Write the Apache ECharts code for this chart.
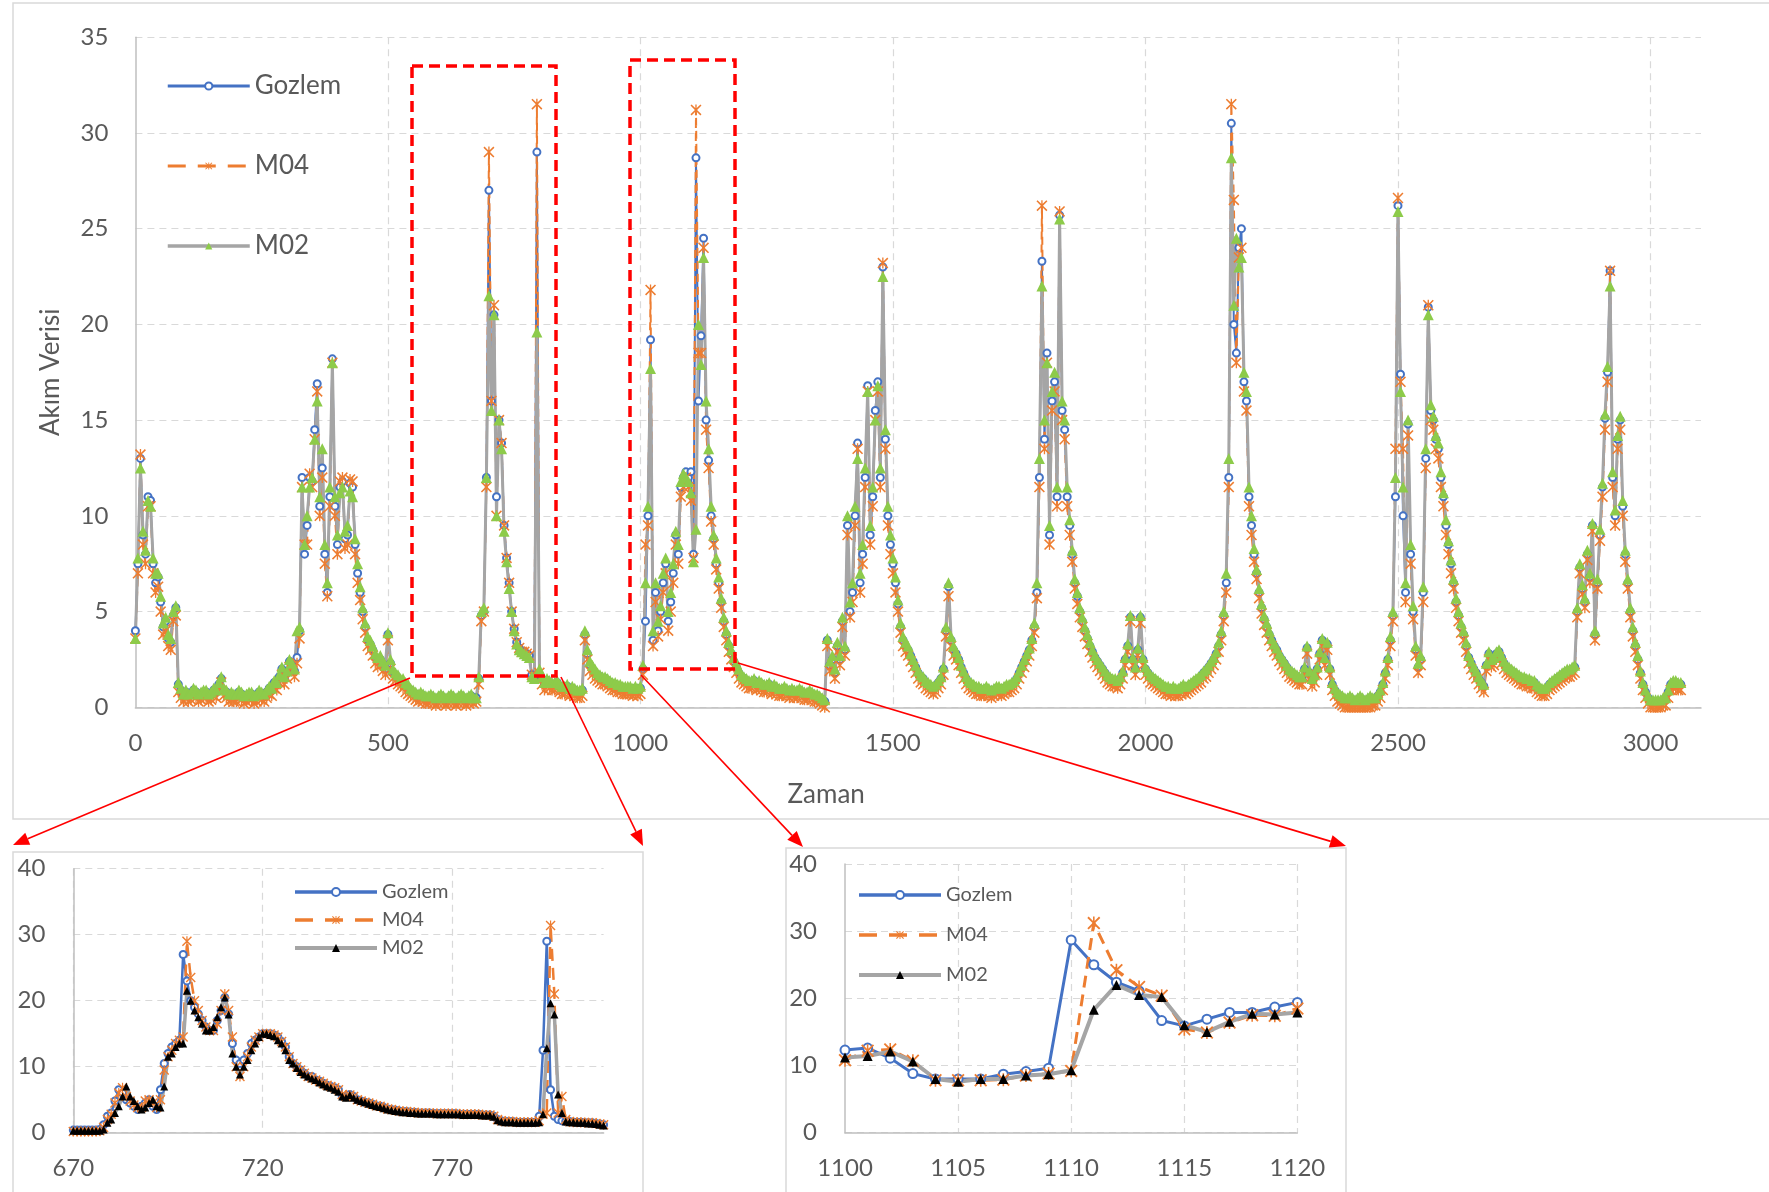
<!DOCTYPE html>
<html>
<head>
<meta charset="utf-8">
<title>Akım Verisi</title>
<script src="https://cdn.jsdelivr.net/npm/echarts@6.0.0/dist/echarts.min.js"></script>
<style>
  html, body { margin: 0; padding: 0; background: #ffffff; }
  #grafik { width: 1769px; height: 1192px; }
</style>
</head>
<body>
<div id="grafik"></div>
<script>
// ana grafik: 0..3060 arasi, 5 adimda okunan degerler (her satir 100 birim)
const adim = 5;

const gozlem = [
  4.0, 7.5, 13.0, 9.0, 8.0, 11.0, 10.8, 7.5, 6.5, 6.8, 5.5, 4.2, 4.5, 3.6, 3.4, 4.8, 5.2, 1.2, 0.9, 0.6,
  0.8, 0.6, 0.7, 0.9, 0.8, 0.6, 0.7, 0.8, 0.8, 0.6, 0.7, 0.9, 0.8, 1.2, 1.5, 0.9, 0.8, 0.6, 0.7, 0.6,
  0.6, 0.8, 0.7, 0.5, 0.6, 0.7, 0.7, 0.5, 0.6, 0.8, 0.7, 0.6, 0.8, 1.0, 0.9, 1.3, 1.2, 1.6, 2.0, 1.5,
  1.8, 2.4, 2.2, 1.9, 2.6, 4.0, 12.0, 8.0, 9.5, 12.0, 11.8, 14.5, 16.9, 10.5, 12.5, 8.0, 6.0, 11.0, 18.2, 10.5,
  8.5, 11.5, 11.8, 8.8, 9.0, 11.7, 11.5, 8.5, 7.0, 6.0, 5.0, 4.2, 3.5, 3.3, 3.0, 2.6, 2.4, 2.5, 2.2, 2.0,
  3.8, 2.3, 1.8, 1.7, 1.5, 1.4, 1.3, 1.1, 1.0, 0.9, 0.8, 0.7, 0.6, 0.7, 0.6, 0.5, 0.5, 0.6, 0.5, 0.4,
  0.5, 0.6, 0.5, 0.4, 0.5, 0.6, 0.5, 0.4, 0.5, 0.6, 0.5, 0.4, 0.5, 0.6, 0.4, 0.5, 1.5, 4.8, 5.0, 12.0,
  27.0, 16.0, 20.5, 11.0, 15.0, 13.8, 9.5, 7.8, 6.5, 5.0, 4.1, 3.4, 3.1, 2.9, 2.9, 2.8, 2.7, 1.7, 1.6, 29.0,
  1.7, 1.5, 1.2, 1.4, 1.3, 1.2, 1.2, 1.3, 1.1, 1.0, 1.0, 1.1, 0.9, 1.0, 0.9, 0.8, 0.8, 0.9, 3.8, 2.8,
  2.2, 2.0, 1.8, 1.7, 1.6, 1.5, 1.5, 1.4, 1.3, 1.2, 1.2, 1.1, 1.1, 1.0, 1.0, 1.0, 1.0, 0.9, 1.0, 0.9,
  1.0, 2.0, 4.5, 10.0, 19.2, 3.5, 6.0, 4.0, 5.0, 6.5, 7.5, 4.5, 5.5, 7.0, 9.0, 8.0, 11.5, 12.0, 12.3, 12.0,
  12.3, 8.0, 28.7, 16.0, 19.4, 24.5, 15.0, 12.9, 10.0, 8.8, 7.5, 6.5, 5.5, 4.5, 3.8, 3.2, 2.8, 2.4, 2.1, 1.8,
  1.6, 1.5, 1.4, 1.3, 1.3, 1.4, 1.2, 1.3, 1.2, 1.1, 1.1, 1.2, 1.0, 1.1, 1.0, 0.9, 0.9, 1.0, 0.9, 0.8,
  0.9, 0.8, 0.8, 0.9, 0.8, 0.7, 0.7, 0.8, 0.7, 0.6, 0.6, 0.5, 0.4, 0.3, 3.5, 2.2, 2.5, 1.8, 3.2, 2.5,
  4.5, 3.0, 9.5, 5.0, 6.0, 10.0, 13.8, 6.5, 8.0, 12.0, 16.8, 9.0, 11.0, 15.5, 17.0, 12.0, 23.0, 14.0, 10.0, 8.5,
  7.5, 6.5, 5.4, 4.2, 3.5, 3.2, 3.0, 2.7, 2.4, 2.1, 1.8, 1.6, 1.5, 1.3, 1.2, 1.1, 1.0, 1.1, 1.3, 1.5,
  2.0, 4.0, 6.3, 3.5, 3.0, 2.8, 2.5, 2.1, 1.8, 1.5, 1.3, 1.2, 1.1, 1.0, 1.0, 0.9, 0.9, 1.0, 0.9, 0.8,
  0.9, 1.0, 1.0, 0.9, 1.0, 1.1, 1.1, 1.2, 1.3, 1.5, 1.8, 2.1, 2.4, 2.7, 3.0, 3.5, 4.2, 6.0, 12.0, 23.3,
  14.0, 18.5, 9.0, 16.0, 17.0, 11.0, 25.7, 15.5, 14.5, 11.0, 9.5, 8.0, 6.5, 5.8, 5.0, 4.5, 4.0, 3.6, 3.2, 2.9,
  2.6, 2.4, 2.2, 2.0, 1.8, 1.6, 1.5, 1.4, 1.4, 1.3, 1.5, 1.8, 2.5, 3.2, 4.7, 2.5, 2.0, 3.0, 4.7, 2.5,
  2.0, 1.8, 1.6, 1.5, 1.4, 1.3, 1.2, 1.1, 1.0, 1.0, 0.9, 1.0, 0.9, 0.9, 1.0, 1.1, 1.0, 1.1, 1.2, 1.3,
  1.4, 1.5, 1.6, 1.8, 1.9, 2.1, 2.3, 2.5, 2.8, 3.2, 3.8, 4.8, 6.5, 12.0, 30.5, 20.0, 18.5, 24.0, 25.0, 17.0,
  16.0, 11.0, 9.5, 8.0, 7.0, 6.0, 5.2, 4.6, 4.2, 3.8, 3.5, 3.2, 3.0, 2.7, 2.5, 2.3, 2.1, 1.9, 1.8, 1.7,
  1.6, 1.5, 1.5, 2.0, 3.1, 1.8, 1.4, 1.6, 2.0, 2.8, 3.5, 2.5, 3.3, 2.0, 1.2, 0.9, 0.7, 0.6, 0.5, 0.4,
  0.4, 0.5, 0.4, 0.3, 0.4, 0.5, 0.4, 0.3, 0.4, 0.5, 0.4, 0.4, 0.6, 0.8, 1.2, 1.8, 2.5, 3.5, 4.8, 11.0,
  26.2, 17.4, 10.0, 6.0, 14.8, 8.0, 5.0, 3.0, 2.1, 2.5, 6.0, 13.0, 20.9, 15.5, 15.0, 14.0, 13.5, 12.0, 11.0, 9.5,
  8.5, 7.5, 6.5, 5.5, 4.8, 4.2, 3.8, 3.2, 2.6, 2.3, 2.0, 1.8, 1.5, 1.3, 1.1, 2.2, 2.8, 2.4, 2.5, 2.8,
  2.9, 2.6, 2.3, 2.1, 2.0, 1.9, 1.8, 1.7, 1.6, 1.5, 1.5, 1.4, 1.4, 1.3, 1.3, 1.1, 1.0, 0.9, 0.9, 1.0,
  1.2, 1.3, 1.4, 1.5, 1.6, 1.7, 1.8, 1.9, 1.9, 2.0, 2.1, 5.0, 7.3, 6.2, 5.5, 8.0, 6.8, 9.5, 3.8, 6.5,
  9.0, 11.5, 15.1, 17.5, 22.8, 12.0, 10.0, 14.0, 15.0, 10.5, 8.0, 6.5, 5.0, 4.0, 3.2, 2.5, 1.8, 1.2, 0.8, 0.5,
  0.3, 0.3, 0.3, 0.3, 0.3, 0.4, 0.4, 0.8, 1.2, 1.3, 1.3, 1.2, 1.2
];

const m04 = [
  3.6, 7.0, 13.2, 8.5, 7.5, 10.5, 10.5, 7.0, 6.0, 6.3, 5.0, 3.8, 4.0, 3.2, 3.0, 4.5, 4.8, 0.8, 0.5, 0.3,
  0.5, 0.3, 0.4, 0.6, 0.5, 0.3, 0.4, 0.5, 0.5, 0.3, 0.4, 0.6, 0.5, 0.9, 1.3, 0.6, 0.5, 0.3, 0.4, 0.3,
  0.3, 0.5, 0.4, 0.2, 0.3, 0.4, 0.4, 0.2, 0.3, 0.5, 0.4, 0.3, 0.5, 0.7, 0.6, 1.0, 0.9, 1.3, 1.7, 1.2,
  1.5, 2.1, 1.9, 1.6, 2.3, 3.6, 11.5, 8.5, 8.5, 12.2, 11.5, 14.0, 16.5, 10.0, 12.0, 7.5, 5.8, 10.5, 18.0, 10.0,
  8.0, 11.8, 12.0, 8.3, 8.5, 11.9, 11.8, 8.0, 6.5, 5.6, 4.6, 3.9, 3.2, 3.0, 2.7, 2.3, 2.1, 2.2, 1.9, 1.7,
  3.5, 2.0, 1.5, 1.4, 1.2, 1.1, 1.0, 0.8, 0.7, 0.6, 0.5, 0.4, 0.3, 0.4, 0.3, 0.2, 0.2, 0.3, 0.2, 0.1,
  0.2, 0.3, 0.2, 0.1, 0.2, 0.3, 0.2, 0.1, 0.2, 0.3, 0.2, 0.1, 0.2, 0.3, 0.2, 0.3, 1.2, 4.5, 5.0, 11.5,
  29.0, 16.0, 21.0, 10.0, 15.0, 13.8, 9.5, 7.8, 6.5, 5.0, 4.1, 3.4, 3.1, 2.9, 2.9, 2.8, 2.7, 1.7, 1.6, 31.5,
  1.8, 1.2, 0.9, 1.1, 1.0, 0.9, 0.9, 1.0, 0.8, 0.7, 0.7, 0.8, 0.6, 0.7, 0.6, 0.5, 0.5, 0.6, 3.5, 2.5,
  1.9, 1.7, 1.5, 1.4, 1.3, 1.2, 1.2, 1.1, 1.0, 0.9, 0.9, 0.8, 0.8, 0.7, 0.7, 0.7, 0.7, 0.6, 0.7, 0.6,
  0.7, 1.7, 8.5, 9.5, 21.8, 3.2, 5.5, 3.7, 4.6, 6.0, 7.0, 4.0, 5.0, 6.5, 8.5, 7.5, 11.0, 11.5, 12.0, 11.5,
  10.8, 7.8, 31.2, 18.5, 18.5, 24.0, 14.5, 12.5, 9.7, 8.5, 7.2, 6.2, 5.2, 4.2, 3.5, 2.9, 2.5, 2.1, 1.8, 1.5,
  1.3, 1.2, 1.1, 1.0, 1.0, 1.1, 0.9, 1.0, 0.9, 0.8, 0.8, 0.9, 0.7, 0.8, 0.7, 0.6, 0.6, 0.7, 0.6, 0.5,
  0.6, 0.5, 0.5, 0.6, 0.5, 0.4, 0.4, 0.5, 0.4, 0.3, 0.3, 0.2, 0.1, 0.0, 3.2, 1.9, 2.2, 1.5, 2.9, 2.2,
  4.2, 2.7, 9.0, 4.7, 5.5, 9.5, 13.5, 6.0, 7.5, 11.5, 16.5, 8.5, 10.5, 15.0, 16.5, 11.5, 23.2, 13.5, 9.5, 8.0,
  7.0, 6.0, 5.0, 3.9, 3.2, 2.9, 2.7, 2.4, 2.1, 1.8, 1.5, 1.3, 1.2, 1.0, 0.9, 0.8, 0.7, 0.8, 1.0, 1.2,
  1.7, 3.7, 5.8, 3.2, 2.7, 2.5, 2.2, 1.8, 1.5, 1.2, 1.0, 0.9, 0.8, 0.7, 0.7, 0.6, 0.6, 0.7, 0.6, 0.5,
  0.6, 0.7, 0.7, 0.6, 0.7, 0.8, 0.8, 0.9, 1.0, 1.2, 1.5, 1.8, 2.1, 2.4, 2.7, 3.2, 3.9, 5.7, 11.5, 26.2,
  13.5, 18.0, 8.5, 15.5, 16.5, 10.5, 25.9, 15.0, 14.0, 10.5, 9.0, 7.6, 6.2, 5.4, 4.7, 4.2, 3.7, 3.3, 2.9, 2.6,
  2.3, 2.1, 1.9, 1.7, 1.5, 1.3, 1.2, 1.1, 1.1, 1.0, 1.2, 1.5, 2.2, 2.9, 4.5, 2.2, 1.7, 2.7, 4.4, 2.2,
  1.7, 1.5, 1.3, 1.2, 1.1, 1.0, 0.9, 0.8, 0.7, 0.7, 0.6, 0.7, 0.6, 0.6, 0.7, 0.8, 0.7, 0.8, 0.9, 1.0,
  1.1, 1.2, 1.3, 1.5, 1.6, 1.8, 2.0, 2.2, 2.5, 2.9, 3.5, 4.5, 6.0, 11.5, 31.5, 26.5, 18.0, 23.5, 24.0, 16.5,
  15.5, 10.5, 9.0, 7.6, 6.7, 5.7, 4.9, 4.3, 3.9, 3.5, 3.2, 2.9, 2.7, 2.4, 2.2, 2.0, 1.8, 1.6, 1.5, 1.4,
  1.3, 1.2, 1.2, 1.7, 2.8, 1.5, 1.1, 1.3, 1.7, 2.5, 3.2, 2.2, 3.0, 1.7, 0.9, 0.6, 0.3, 0.2, 0.1, 0.0,
  0.0, 0.0, 0.0, 0.0, 0.0, 0.0, 0.0, 0.0, 0.0, 0.0, 0.1, 0.1, 0.3, 0.5, 0.9, 1.5, 2.2, 3.2, 4.5, 13.5,
  26.6, 17.0, 13.5, 5.5, 14.2, 7.5, 4.6, 2.7, 1.8, 2.2, 5.5, 12.5, 21.0, 15.0, 14.5, 13.5, 13.0, 11.5, 10.5, 9.0,
  8.0, 7.0, 6.2, 5.2, 4.5, 3.9, 3.5, 2.9, 2.3, 2.0, 1.7, 1.5, 1.2, 1.0, 0.8, 1.9, 2.5, 2.1, 2.2, 2.5,
  2.6, 2.3, 2.0, 1.8, 1.7, 1.6, 1.5, 1.4, 1.3, 1.2, 1.2, 1.1, 1.1, 1.0, 1.0, 0.8, 0.7, 0.6, 0.6, 0.7,
  0.9, 1.0, 1.1, 1.2, 1.3, 1.4, 1.5, 1.6, 1.6, 1.7, 1.8, 4.7, 7.0, 5.9, 5.2, 7.7, 6.5, 9.2, 3.5, 6.2,
  8.7, 11.0, 14.5, 17.0, 22.8, 11.5, 9.5, 13.5, 14.5, 10.0, 7.6, 6.2, 4.7, 3.7, 2.9, 2.2, 1.5, 0.9, 0.5, 0.2,
  0.0, 0.0, 0.0, 0.0, 0.0, 0.1, 0.1, 0.5, 0.9, 1.0, 1.0, 0.9, 0.9
];

const m02 = [
  3.6, 7.8, 12.5, 9.2, 8.2, 10.8, 10.5, 7.8, 7.0, 7.0, 5.8, 4.4, 4.7, 3.8, 3.6, 5.0, 5.3, 1.3, 1.0, 0.7,
  0.9, 0.7, 0.8, 1.0, 0.9, 0.7, 0.8, 0.9, 0.9, 0.7, 0.8, 1.0, 0.9, 1.3, 1.6, 1.0, 0.9, 0.7, 0.8, 0.7,
  0.7, 0.9, 0.8, 0.6, 0.7, 0.8, 0.8, 0.6, 0.7, 0.9, 0.8, 0.7, 0.9, 1.1, 1.0, 1.4, 1.3, 1.7, 2.1, 1.6,
  1.9, 2.5, 2.3, 2.0, 4.0, 4.2, 11.5, 8.5, 10.0, 11.5, 12.0, 14.0, 16.0, 11.0, 13.5, 8.5, 6.5, 11.5, 18.0, 11.0,
  9.0, 11.2, 11.5, 9.2, 9.5, 11.3, 11.0, 8.8, 7.5, 6.3, 5.2, 4.4, 3.7, 3.5, 3.2, 2.8, 2.6, 2.7, 2.4, 2.2,
  3.9, 2.5, 2.0, 1.8, 1.7, 1.5, 1.5, 1.3, 1.2, 1.0, 0.9, 0.8, 0.7, 0.8, 0.7, 0.6, 0.6, 0.7, 0.6, 0.5,
  0.6, 0.7, 0.6, 0.5, 0.6, 0.7, 0.6, 0.5, 0.6, 0.7, 0.6, 0.5, 0.6, 0.7, 0.5, 0.5, 1.6, 5.0, 5.2, 12.0,
  21.5, 15.5, 20.5, 10.0, 15.0, 13.5, 9.2, 7.6, 6.2, 5.0, 4.0, 3.3, 3.0, 2.9, 2.8, 2.7, 2.6, 1.6, 1.5, 19.6,
  2.0, 1.6, 1.3, 1.5, 1.4, 1.3, 1.3, 1.4, 1.2, 1.1, 1.1, 1.2, 1.0, 1.1, 1.0, 0.9, 0.9, 1.0, 4.0, 3.0,
  2.4, 2.2, 2.0, 1.8, 1.7, 1.6, 1.6, 1.5, 1.4, 1.3, 1.3, 1.2, 1.2, 1.1, 1.1, 1.1, 1.1, 1.0, 1.1, 1.0,
  1.1, 2.2, 6.5, 10.5, 17.7, 4.0, 6.5, 4.5, 5.3, 7.0, 7.8, 5.0, 6.0, 7.5, 9.2, 8.5, 11.8, 12.2, 12.0, 11.8,
  11.2, 7.6, 9.3, 20.0, 17.9, 23.5, 16.0, 13.5, 10.5, 9.0, 7.8, 6.8, 5.7, 4.7, 4.0, 3.4, 3.0, 2.6, 2.3, 2.0,
  1.7, 1.6, 1.5, 1.4, 1.4, 1.5, 1.3, 1.4, 1.3, 1.2, 1.2, 1.3, 1.1, 1.2, 1.1, 1.0, 1.0, 1.1, 1.0, 0.9,
  1.0, 0.9, 0.9, 1.0, 0.9, 0.8, 0.8, 0.9, 0.8, 0.7, 0.7, 0.6, 0.5, 0.4, 3.6, 2.4, 2.7, 2.0, 3.4, 2.7,
  4.7, 3.2, 10.0, 5.5, 6.5, 10.5, 13.0, 7.0, 8.5, 12.5, 16.5, 9.5, 11.5, 15.0, 16.8, 12.5, 22.5, 14.5, 10.5, 9.0,
  7.8, 6.8, 5.6, 4.4, 3.7, 3.4, 3.2, 2.8, 2.5, 2.2, 1.9, 1.7, 1.6, 1.4, 1.3, 1.2, 1.1, 1.2, 1.4, 1.6,
  2.1, 4.2, 6.5, 3.7, 3.2, 2.9, 2.6, 2.2, 1.9, 1.6, 1.4, 1.3, 1.2, 1.1, 1.1, 1.0, 1.0, 1.1, 1.0, 0.9,
  1.0, 1.1, 1.1, 1.0, 1.1, 1.2, 1.2, 1.3, 1.4, 1.6, 1.9, 2.2, 2.5, 2.8, 3.1, 3.6, 4.4, 6.5, 13.0, 22.0,
  15.0, 18.0, 9.5, 16.5, 17.5, 11.5, 25.5, 16.0, 15.0, 11.5, 9.8, 8.2, 6.7, 6.0, 5.2, 4.7, 4.2, 3.8, 3.4, 3.0,
  2.7, 2.5, 2.3, 2.1, 1.9, 1.7, 1.6, 1.5, 1.5, 1.4, 1.6, 1.9, 2.6, 3.3, 4.8, 2.6, 2.1, 3.1, 4.8, 2.6,
  2.1, 1.9, 1.7, 1.6, 1.5, 1.4, 1.3, 1.2, 1.1, 1.1, 1.0, 1.1, 1.0, 1.0, 1.1, 1.2, 1.1, 1.2, 1.3, 1.4,
  1.5, 1.6, 1.7, 1.9, 2.0, 2.2, 2.4, 2.6, 2.9, 3.4, 4.0, 5.0, 7.0, 13.0, 28.7, 21.0, 24.5, 23.0, 23.5, 17.5,
  16.5, 11.5, 10.0, 8.3, 7.2, 6.2, 5.4, 4.8, 4.4, 4.0, 3.6, 3.3, 3.1, 2.8, 2.6, 2.4, 2.2, 2.0, 1.9, 1.8,
  1.7, 1.6, 1.6, 2.1, 3.2, 1.9, 1.5, 1.7, 2.1, 2.9, 3.6, 2.6, 3.4, 2.1, 1.3, 1.0, 0.8, 0.7, 0.6, 0.5,
  0.5, 0.6, 0.5, 0.4, 0.5, 0.6, 0.5, 0.4, 0.5, 0.6, 0.5, 0.5, 0.7, 0.9, 1.3, 1.9, 2.6, 3.7, 5.0, 12.0,
  25.9, 16.5, 11.5, 6.5, 15.0, 8.5, 5.3, 3.2, 2.3, 2.7, 6.3, 13.5, 20.5, 15.8, 15.2, 14.2, 13.8, 12.3, 11.2, 9.8,
  8.7, 7.7, 6.7, 5.7, 5.0, 4.4, 4.0, 3.4, 2.7, 2.4, 2.1, 1.9, 1.6, 1.4, 1.2, 2.3, 2.9, 2.5, 2.6, 2.9,
  3.0, 2.7, 2.4, 2.2, 2.1, 2.0, 1.9, 1.8, 1.7, 1.6, 1.6, 1.5, 1.5, 1.4, 1.4, 1.2, 1.1, 1.0, 1.0, 1.1,
  1.3, 1.4, 1.5, 1.6, 1.7, 1.8, 1.9, 2.0, 2.0, 2.1, 2.2, 5.2, 7.5, 6.4, 5.7, 8.2, 7.0, 9.6, 4.0, 6.7,
  9.3, 11.7, 15.3, 17.8, 22.0, 12.3, 10.3, 14.2, 15.2, 10.8, 8.2, 6.7, 5.2, 4.2, 3.4, 2.7, 1.9, 1.3, 0.9, 0.6,
  0.4, 0.4, 0.4, 0.4, 0.4, 0.5, 0.5, 0.9, 1.3, 1.4, 1.4, 1.3, 1.3
];

// yakinlastirma 1: 670..810
const yakin1Bas = 670;
const yakin1Gozlem = [
  0.4, 0.4, 0.4, 0.4, 0.4, 0.4, 0.4, 0.5, 1.2, 2.5,
  3.0, 4.8, 6.5, 6.0, 5.0, 4.5, 4.0, 3.5, 4.0, 4.5,
  5.0, 4.0, 3.5, 6.5, 10.5, 12.0, 13.0, 13.5, 14.0, 27.0,
  23.0, 20.0, 19.0, 18.0, 17.0, 16.0, 15.5, 15.5, 17.0, 18.5,
  20.5, 18.0, 13.5, 11.0, 10.5, 11.0, 12.0, 13.5, 14.0, 14.5,
  15.0, 15.0, 15.0, 14.8, 14.5, 13.8, 13.0, 11.5, 10.5, 10.0,
  9.5, 9.0, 8.5, 8.5, 8.0, 7.8, 7.5, 7.2, 7.0, 6.8,
  6.5, 5.5, 5.5, 5.8, 5.5, 5.0, 4.8, 4.6, 4.5, 4.3,
  4.1, 4.0, 3.8, 3.6, 3.5, 3.4, 3.3, 3.2, 3.2, 3.1,
  3.1, 3.0, 3.0, 3.0, 3.0, 2.9, 2.9, 2.9, 2.9, 2.9,
  2.9, 2.9, 2.8, 2.8, 2.8, 2.8, 2.8, 2.8, 2.7, 2.7,
  2.7, 2.5, 2.0, 1.8, 1.7, 1.7, 1.7, 1.6, 1.6, 1.6,
  1.6, 1.6, 1.6, 2.5, 12.5, 29.0, 6.5, 2.5, 2.0, 1.8,
  1.7, 1.7, 1.6, 1.6, 1.6, 1.5, 1.5, 1.5, 1.4, 1.3, 1.2
];
const yakin1M04 = [
  0.2, 0.2, 0.2, 0.2, 0.2, 0.2, 0.2, 0.3, 0.8, 2.0,
  2.8, 4.5, 6.0, 6.8, 5.5, 4.8, 4.2, 3.8, 3.8, 4.8,
  5.0, 4.5, 3.8, 5.0, 9.5, 11.5, 12.5, 13.5, 14.0, 14.5,
  29.0, 23.5, 20.0, 18.5, 17.0, 16.0, 15.5, 15.5, 16.5, 18.5,
  21.0, 18.5, 14.5, 10.0, 8.5, 10.0, 11.5, 13.0, 14.0, 14.5,
  15.0, 15.0, 15.0, 14.8, 14.5, 13.8, 13.0, 11.5, 10.5, 10.0,
  9.5, 9.0, 8.5, 8.3, 8.0, 7.8, 7.5, 7.2, 7.0, 6.8,
  6.5, 5.8, 5.5, 5.7, 5.5, 5.0, 4.8, 4.6, 4.5, 4.3,
  4.1, 4.0, 3.8, 3.6, 3.5, 3.4, 3.3, 3.2, 3.2, 3.1,
  3.1, 3.0, 3.0, 3.0, 3.0, 2.9, 2.9, 2.9, 2.9, 2.9,
  2.9, 2.9, 2.8, 2.8, 2.8, 2.8, 2.8, 2.8, 2.7, 2.7,
  2.7, 2.5, 2.0, 1.8, 1.7, 1.7, 1.7, 1.6, 1.6, 1.6,
  1.6, 1.6, 1.6, 1.8, 2.8, 3.0, 31.4, 21.0, 3.0, 5.5,
  2.0, 1.7, 1.6, 1.6, 1.6, 1.5, 1.5, 1.5, 1.4, 1.3, 1.2
];
const yakin1M02 = [
  0.3, 0.3, 0.3, 0.3, 0.3, 0.3, 0.3, 0.3, 0.5, 1.5,
  2.0, 3.0, 4.0, 5.5, 7.0, 5.5, 4.8, 4.0, 3.5, 3.8,
  4.5, 5.0, 4.0, 3.8, 7.0, 11.5, 12.0, 13.0, 13.5, 13.5,
  21.5, 20.0, 18.5, 17.5, 16.5, 15.5, 15.5, 16.0, 17.5, 19.0,
  20.5, 17.9, 12.0, 10.0, 8.8, 10.0, 11.0, 12.5, 13.5, 14.5,
  15.0, 15.0, 14.8, 14.6, 14.0, 13.5, 12.5, 11.0, 10.5, 9.8,
  9.2, 8.8, 8.5, 8.2, 8.0, 7.6, 7.3, 7.0, 6.8, 6.5,
  6.2, 5.5, 5.3, 5.7, 5.3, 5.0, 4.8, 4.6, 4.4, 4.2,
  4.0, 3.9, 3.7, 3.5, 3.4, 3.3, 3.2, 3.1, 3.1, 3.0,
  3.0, 2.9, 2.9, 2.9, 2.9, 2.9, 2.8, 2.8, 2.8, 2.8,
  2.8, 2.8, 2.8, 2.7, 2.7, 2.7, 2.7, 2.7, 2.6, 2.6,
  2.6, 2.4, 1.9, 1.7, 1.6, 1.6, 1.6, 1.5, 1.5, 1.5,
  1.5, 1.5, 1.5, 1.6, 2.8, 12.8, 19.6, 17.9, 5.8, 3.0,
  1.7, 1.6, 1.6, 1.5, 1.5, 1.5, 1.4, 1.4, 1.3, 1.2, 1.1
];

// yakinlastirma 2: 1100..1120
const yakin2Bas = 1100;
const yakin2Gozlem = [12.3, 12.6, 11.1, 8.8, 8.0, 8.0, 8.0, 8.7, 9.1, 9.6, 28.7, 25.0, 22.4, 21.1, 16.7, 15.9, 16.9, 17.9, 17.9, 18.7, 19.4];
const yakin2M04 = [10.8, 12.2, 12.4, 10.7, 7.8, 7.8, 7.8, 7.9, 8.5, 8.8, 9.2, 31.2, 24.2, 21.7, 20.4, 15.4, 14.9, 16.4, 17.5, 17.4, 18.5];
const yakin2M02 = [11.2, 11.4, 12.1, 10.6, 8.0, 7.6, 8.0, 8.0, 8.5, 8.7, 9.3, 18.3, 22.0, 20.5, 20.2, 16.0, 15.0, 16.5, 17.7, 17.6, 17.9];

const seriAdlari = ['Gozlem', 'M04', 'M02'];

const MAVI = '#4472C4', TURUNCU = '#ED7D31', GRI = '#A5A5A5', YESIL = '#8DCB4A';
const KIRMIZI = '#FF0000', METIN = '#595959', IZGARA = '#D9D9D9', EKSEN = '#BFBFBF';
const YAZI = 'Lato, "Liberation Sans", sans-serif';
const yildiz = 'path://M1,0L5,4L9,0L10,1L6,5L10,9L9,10L5,6L1,10L0,9L4,5L0,1Z M4.4,0L5.6,0L5.6,10L4.4,10Z';

const yakin1Kategori = yakin1Gozlem.map((_, i) => String(yakin1Bas + i));

const chart = echarts.init(document.getElementById('grafik'));

// boyutlar: [ana, yakin1, yakin2]
const OLCU = {
  daire: [7, 7, 9], daireCizgi: [2, 2.5, 3],
  yildiz: [11, 10, 13], yildizCizgi: [2, 2.5, 3],
  ucgen: [11, 8, 10], ucgenCizgi: [3, 3.5, 4]
};

// seri ad sonekleri: ayni isimler farkli lejantlarda ayri cizilsin diye
function seri(ad, ek, veri, ix, tur) {
  const s = {
    name: ad + ek, type: 'line', data: veri,
    xAxisIndex: ix, yAxisIndex: ix,
    showAllSymbol: true, animation: false
  };
  if (tur === 0) {
    s.symbol = 'emptyCircle';
    s.symbolSize = OLCU.daire[ix];
    s.itemStyle = { color: MAVI, borderWidth: ix === 0 ? 1.4 : 1.6 };
    s.lineStyle = { color: MAVI, width: OLCU.daireCizgi[ix] };
  } else if (tur === 1) {
    s.symbol = yildiz;
    s.symbolSize = OLCU.yildiz[ix];
    s.itemStyle = { color: TURUNCU };
    s.lineStyle = { color: TURUNCU, width: OLCU.yildizCizgi[ix], type: ix === 0 ? [8, 5] : [12, 7] };
  } else {
    s.symbol = 'triangle';
    s.symbolSize = OLCU.ucgen[ix];
    s.itemStyle = { color: ix === 0 ? YESIL : '#000000' };
    s.lineStyle = { color: GRI, width: OLCU.ucgenCizgi[ix] };
  }
  return s;
}

const anaSeriler = [gozlem, m04, m02].map((d, k) =>
  seri(seriAdlari[k], '', d.map((v, i) => [i * adim, v]), 0, k));
const yakin1Seriler = [yakin1Gozlem, yakin1M04, yakin1M02].map((d, k) =>
  seri(seriAdlari[k], '|1', d, 1, k));
const yakin2Seriler = [yakin2Gozlem, yakin2M04, yakin2M02].map((d, k) =>
  seri(seriAdlari[k], '|2', d.map((v, i) => [yakin2Bas + i, v]), 2, k));

const kesikIzgara = { show: true, lineStyle: { color: IZGARA, type: [7, 5], width: 1.2 } };
const etiket = (boy, bosluk) => ({ color: METIN, fontFamily: YAZI, fontSize: boy, margin: bosluk, formatter: v => String(v) });

function lejant(ek, sol, ust, boy, satir, aralik, kalin, simge) {
  const cizgiler = [
    { width: kalin, type: 'solid' },
    { width: kalin, type: [18, 12] },
    { width: kalin + 0.5, type: 'solid' }
  ];
  return {
    data: seriAdlari.map((a, k) => ({ name: a + ek, lineStyle: cizgiler[k] })),
    orient: 'vertical', left: sol, top: ust,
    itemWidth: 82, itemHeight: simge, itemGap: aralik,
    formatter: n => n.split('|')[0],
    textStyle: { color: METIN, fontFamily: YAZI, fontSize: boy, lineHeight: satir },
    selectedMode: false
  };
}

function ok(x1, y1, x2, y2) {
  const a = Math.atan2(y2 - y1, x2 - x1), L = 16, W = 6.5;
  const bx = x2 - L * Math.cos(a), by = y2 - L * Math.sin(a);
  return [
    { type: 'line', z: 50, shape: { x1, y1, x2: bx, y2: by }, style: { stroke: KIRMIZI, lineWidth: 1.6 } },
    { type: 'polygon', z: 50, shape: { points: [[x2, y2], [bx + W * Math.sin(a), by - W * Math.cos(a)], [bx - W * Math.sin(a), by + W * Math.cos(a)]] }, style: { fill: KIRMIZI } }
  ];
}

const cerceve = (x, y, w, h) => ({ type: 'rect', z: 0, shape: { x, y, width: w, height: h }, style: { fill: 'none', stroke: IZGARA, lineWidth: 1.5 } });
const kutu = (x, y, w, h) => ({ type: 'rect', z: 60, shape: { x, y, width: w, height: h }, style: { fill: 'none', stroke: KIRMIZI, lineWidth: 3.5, lineDash: [11, 6] } });

const option = {
  backgroundColor: '#ffffff',
  animation: false,
  grid: [
    { left: 135.4, top: 37.2, width: 1565.6, height: 670.1 },
    { left: 73.3, top: 868.7, width: 530.3, height: 264 },
    { left: 845, top: 864, width: 452.4, height: 268.7 }
  ],
  xAxis: [
    {
      type: 'value', gridIndex: 0, min: 0, max: 3100, interval: 500,
      name: 'Zaman', nameLocation: 'middle', nameGap: 74,
      nameTextStyle: { color: METIN, fontFamily: YAZI, fontSize: 26, padding: [0, 184, 0, 0] },
      axisLine: { show: true, lineStyle: { color: EKSEN, width: 1.5 } },
      axisTick: { show: false },
      axisLabel: Object.assign(etiket(24, 24), { showMaxLabel: false }),
      splitLine: Object.assign({ showMaxLine: false, showMinLine: false }, kesikIzgara)
    },
    {
      type: 'category', gridIndex: 1, data: yakin1Kategori, boundaryGap: false,
      axisLine: { show: true, lineStyle: { color: EKSEN, width: 1.5 } },
      axisTick: { show: false },
      axisLabel: { color: METIN, fontFamily: YAZI, fontSize: 24, margin: 24, interval: 49 },
      splitLine: Object.assign({ interval: 49 }, kesikIzgara)
    },
    {
      type: 'value', gridIndex: 2, min: 1100, max: 1120, interval: 5,
      axisLine: { show: true, lineStyle: { color: EKSEN, width: 1.5 } },
      axisTick: { show: false },
      axisLabel: etiket(24, 24),
      splitLine: Object.assign({ showMinLine: false }, kesikIzgara)
    }
  ],
  yAxis: [
    {
      type: 'value', gridIndex: 0, min: 0, max: 35, interval: 5,
      name: 'Akım Verisi', nameLocation: 'middle', nameGap: 72, nameRotate: 90,
      nameTextStyle: { color: METIN, fontFamily: YAZI, fontSize: 26 },
      axisLine: { show: true, lineStyle: { color: EKSEN, width: 1.5 } },
      axisTick: { show: false },
      axisLabel: etiket(24, 27),
      splitLine: kesikIzgara
    },
    {
      type: 'value', gridIndex: 1, min: 0, max: 40, interval: 10,
      axisLine: { show: true, lineStyle: { color: EKSEN, width: 1.5 } },
      axisTick: { show: false },
      axisLabel: etiket(24, 28),
      splitLine: kesikIzgara
    },
    {
      type: 'value', gridIndex: 2, min: 0, max: 40, interval: 10,
      axisLine: { show: true, lineStyle: { color: EKSEN, width: 1.5 } },
      axisTick: { show: false },
      axisLabel: etiket(24, 28),
      splitLine: kesikIzgara
    }
  ],
  legend: [
    lejant('', 161, 66, 26, 30, 50, 3, 9),
    lejant('|1', 288, 875, 20, 24, 4, 3.5, 10),
    lejant('|2', 852, 878, 20, 24, 16, 3.5, 10)
  ],
  series: anaSeriler.concat(yakin1Seriler, yakin2Seriler),
  graphic: [
    cerceve(13, 3, 1800, 816),
    cerceve(13, 852, 630, 400),
    cerceve(786, 848, 560, 400),
    kutu(412, 66, 144, 610),
    kutu(630, 60, 105, 609)
  ].concat(
    ok(410, 678, 13, 845),
    ok(561, 677, 643, 846),
    ok(641, 675, 803, 847),
    ok(738, 663, 1346, 846)
  )
};

chart.setOption(option);
</script>
</body>
</html>
